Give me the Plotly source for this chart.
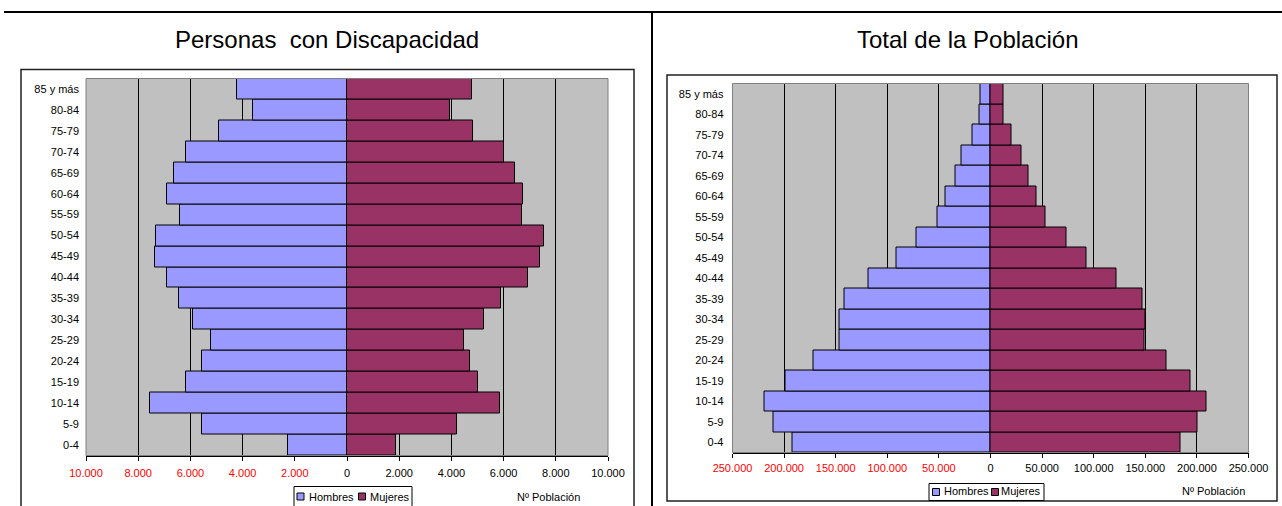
import plotly.graph_objects as go

# ---------------- data ----------------
edades = ["0-4", "5-9", "10-14", "15-19", "20-24", "25-29", "30-34", "35-39", "40-44",
          "45-49", "50-54", "55-59", "60-64", "65-69", "70-74", "75-79", "80-84", "85 y más"]

disc_hombres = [2250, 5540, 7530, 6160, 5560, 5230, 5910, 6430, 6890,
                7370, 7300, 6380, 6890, 6620, 6150, 4910, 3610, 4200]
disc_mujeres = [1870, 4210, 5860, 5030, 4710, 4490, 5230, 5890, 6930,
                7390, 7540, 6710, 6750, 6440, 6020, 4820, 3940, 4790]

tot_hombres = [192200, 210300, 219400, 199000, 171500, 146300, 146300, 141200, 118600,
               90800, 71700, 51700, 43600, 34300, 27800, 17800, 10700, 9700]
tot_mujeres = [183800, 200300, 209300, 193500, 170500, 148900, 149900, 147000, 122400,
               93000, 74000, 53000, 44900, 36500, 30000, 20000, 12300, 12300]

titulo_izq = "Personas  con Discapacidad"
titulo_der = "Total de la Población"
serie_h = "Hombres"
serie_m = "Mujeres"
eje_x = "Nº Población"

ticks_izq = [-10000, -8000, -6000, -4000, -2000, 0, 2000, 4000, 6000, 8000, 10000]
ticks_der = [-250000, -200000, -150000, -100000, -50000, 0, 50000, 100000, 150000, 200000, 250000]

# ---------------- layout helpers ----------------
W, H = 1282, 506
FONT = "Arial, Liberation Sans, sans-serif"
C_H = "#9999FF"
C_M = "#993366"


def px(x):
    return x / W


def py(y):
    return 1 - y / H


def fmt(v):
    s = f"{abs(v):,}".replace(",", ".")
    if v < 0:
        return f"<span style='color:#FF0000'>{s}</span>"
    return s


fig = go.Figure()

neg = lambda arr: [-v for v in arr]

fig.add_trace(go.Bar(y=edades, x=neg(disc_hombres), orientation="h", name=serie_h,
                     marker=dict(color=C_H, line=dict(color="black", width=1)),
                     customdata=disc_hombres, hovertemplate="%{y}: %{customdata}<extra>Hombres</extra>",
                     xaxis="x", yaxis="y", showlegend=False))
fig.add_trace(go.Bar(y=edades, x=disc_mujeres, orientation="h", name=serie_m,
                     marker=dict(color=C_M, line=dict(color="black", width=1)),
                     xaxis="x", yaxis="y", showlegend=False))
fig.add_trace(go.Bar(y=edades, x=neg(tot_hombres), orientation="h", name=serie_h,
                     marker=dict(color=C_H, line=dict(color="black", width=1)),
                     customdata=tot_hombres, hovertemplate="%{y}: %{customdata}<extra>Hombres</extra>",
                     xaxis="x2", yaxis="y2", showlegend=False))
fig.add_trace(go.Bar(y=edades, x=tot_mujeres, orientation="h", name=serie_m,
                     marker=dict(color=C_M, line=dict(color="black", width=1)),
                     xaxis="x2", yaxis="y2", showlegend=False))

# plot-area geometry (pixels)
L = dict(x0=86, x1=608, y0=78.5, y1=455.5)
R = dict(x0=732.5, x1=1248.5, y0=83.5, y1=452.5)

common_x = dict(showgrid=True, gridcolor="black", gridwidth=1, zeroline=True, zerolinecolor="black",
                zerolinewidth=1, showline=True, linecolor="black", linewidth=1, ticks="outside",
                ticklen=4, tickcolor="black", tickfont=dict(family=FONT, size=11, color="black"),
                fixedrange=True, automargin=False)
common_y = dict(type="category", showgrid=False, zeroline=False, showline=False, ticks="",
                tickfont=dict(family=FONT, size=11, color="black"), fixedrange=True, automargin=False)

fig.update_layout(
    width=W, height=H, margin=dict(l=0, r=0, t=0, b=0, autoexpand=False), autosize=False,
    paper_bgcolor="white", plot_bgcolor="#C0C0C0",
    barmode="overlay", bargap=0, showlegend=False,
    font=dict(family=FONT, size=11, color="black"),
    xaxis=dict(domain=[px(L["x0"]), px(L["x1"])], anchor="y", range=[-10000, 10000],
               tickvals=ticks_izq, ticktext=[fmt(v) for v in ticks_izq], ticklabelstandoff=3, **common_x),
    yaxis=dict(domain=[py(L["y1"]), py(L["y0"])], anchor="x", ticklabelstandoff=6, **common_y),
    xaxis2=dict(domain=[px(R["x0"]), px(R["x1"])], anchor="y2", range=[-250000, 250000],
                tickvals=ticks_der, ticktext=[fmt(v) for v in ticks_der], ticklabelstandoff=1, **common_x),
    yaxis2=dict(domain=[py(R["y1"]), py(R["y0"])], anchor="x2", ticklabelstandoff=8, **common_y),
)

shapes = []
# page lines
shapes.append(dict(type="line", xref="paper", yref="paper", x0=px(4), x1=px(1282), y0=py(12), y1=py(12),
                   line=dict(color="black", width=2)))
shapes.append(dict(type="line", xref="paper", yref="paper", x0=px(652), x1=px(652), y0=py(12), y1=py(506),
                   line=dict(color="black", width=2)))
# chart frames
shapes.append(dict(type="rect", xref="paper", yref="paper", x0=px(21), x1=px(634), y0=py(69.5), y1=py(530),
                   line=dict(color="#222222", width=1.5)))
shapes.append(dict(type="rect", xref="paper", yref="paper", x0=px(667), x1=px(1277), y0=py(75), y1=py(501),
                   line=dict(color="#222222", width=1.5)))
# plot area frames (gray)
for ax in ("x", "x2"):
    yy = "y" if ax == "x" else "y2"
    shapes.append(dict(type="rect", xref=f"{ax} domain", yref=f"{yy} domain", x0=0, x1=1, y0=0, y1=1,
                       line=dict(color="#808080", width=1), layer="above"))
# legend boxes
shapes.append(dict(type="rect", xref="paper", yref="paper", x0=px(294), x1=px(412), y0=py(486.5), y1=py(515),
                   line=dict(color="black", width=1), fillcolor="white"))
shapes.append(dict(type="rect", xref="paper", yref="paper", x0=px(929), x1=px(1044), y0=py(483.5), y1=py(500.5),
                   line=dict(color="black", width=1), fillcolor="white"))
# legend swatches
for (sx, sy, col) in [(297, 496.5, C_H), (358.5, 496.5, C_M), (932.5, 492, C_H), (991.5, 492, C_M)]:
    shapes.append(dict(type="rect", xref="paper", yref="paper", x0=px(sx), x1=px(sx + 7),
                       y0=py(sy - 3.5), y1=py(sy + 3.5), line=dict(color="black", width=1), fillcolor=col))
fig.update_layout(shapes=shapes)

ann = []
ann.append(dict(text=titulo_izq, x=px(327), y=py(40), xref="paper", yref="paper", showarrow=False,
                font=dict(family=FONT, size=24, color="black"), xanchor="center", yanchor="middle"))
ann.append(dict(text=titulo_der, x=px(967), y=py(40), xref="paper", yref="paper", showarrow=False,
                font=dict(family=FONT, size=24, color="black"), xanchor="center", yanchor="middle"))
for (tx, ty, t) in [(307, 496.5, serie_h), (368, 496.5, serie_m), (942, 491, serie_h), (999, 491, serie_m),
                    (548, 496.5, eje_x), (1213, 491, eje_x)]:
    anchor = "center" if t == eje_x else "left"
    ann.append(dict(text=t, x=px(tx), y=py(ty), xref="paper", yref="paper", showarrow=False,
                    font=dict(family=FONT, size=11, color="black"), xanchor=anchor, yanchor="middle",
                    xshift=0))
fig.update_layout(annotations=ann)

fig.write_html("out.html", config=dict(displayModeBar=False),
               post_script="document.body.style.margin='0';document.body.style.overflow='hidden';")
